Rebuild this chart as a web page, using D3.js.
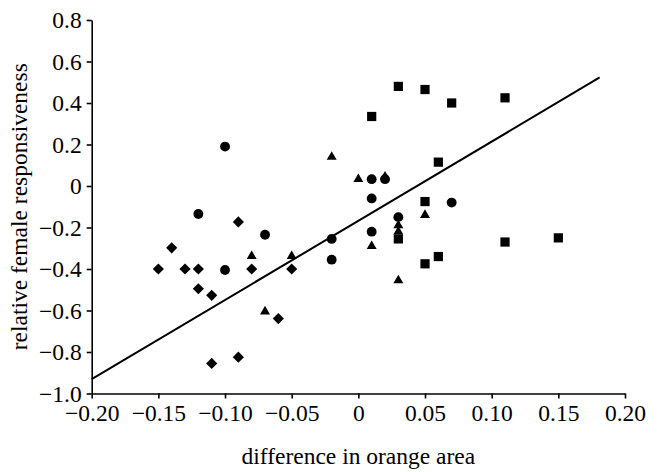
<!DOCTYPE html>
<html><head><meta charset="utf-8">
<script src="https://cdn.jsdelivr.net/npm/d3@7"></script>
<style>body{margin:0;background:#fff}svg{display:block}svg text{font-family:"Liberation Serif","Times New Roman",serif !important;fill:#000}</style>
</head><body><svg id="c" width="659" height="472"></svg>
<script>
const circleX = [-0.10, -0.12, -0.07, -0.10, -0.02, -0.02, 0.01, 0.02, 0.01, 0.01, 0.03, 0.07];
const circleY = [0.19, -0.135, -0.235, -0.405, -0.255, -0.355, 0.033, 0.033, -0.06, -0.22, -0.15, -0.08];
const squareX = [0.03, 0.05, 0.07, 0.11, 0.01, 0.06, 0.05, 0.03, 0.05, 0.06, 0.11, 0.15];
const squareY = [0.48, 0.465, 0.40, 0.425, 0.335, 0.115, -0.075, -0.255, -0.375, -0.34, -0.27, -0.25];
const triangleX = [-0.02, 0.00, 0.02, -0.08, -0.05, -0.07, 0.01, 0.03, 0.03, 0.05, 0.03];
const triangleY = [0.14, 0.033, 0.045, -0.338, -0.338, -0.605, -0.29, -0.19, -0.22, -0.14, -0.455];
const diamondX = [-0.15, -0.14, -0.13, -0.12, -0.12, -0.11, -0.09, -0.08, -0.05, -0.06, -0.11, -0.09];
const diamondY = [-0.40, -0.298, -0.40, -0.40, -0.495, -0.527, -0.173, -0.40, -0.40, -0.639, -0.855, -0.825];
const fitX = [-0.20, 0.181];
const fitY = [-0.931, 0.523];
const xTicks = [-0.20, -0.15, -0.10, -0.05, 0, 0.05, 0.10, 0.15, 0.20];
const yTicks = [-1.0, -0.8, -0.6, -0.4, -0.2, 0, 0.2, 0.4, 0.6, 0.8];
const xTitle = "difference in orange area";
const yTitle = "relative female responsiveness";

const svg = d3.select("#c");
const x = d3.scaleLinear().domain([-0.2, 0.2]).range([91.7, 625]);
const y = d3.scaleLinear().domain([-1.0, 0.8]).range([393.5, 20]);
const fs = "23.5px";
const ff = '"Liberation Serif","Times New Roman",serif';

const xAxis = d3.axisBottom(x).tickValues(xTicks).tickSizeInner(5).tickSizeOuter(0).tickPadding(6)
  .tickFormat(d => d === 0 ? "0" : d3.format(".2f")(d));
const yAxis = d3.axisLeft(y).tickValues(yTicks).tickSizeInner(5).tickSizeOuter(0).tickPadding(5)
  .tickFormat(d => d === 0 ? "0" : d3.format(".1f")(d));

const gx = svg.append("g").attr("transform", `translate(0,${y(-1.0)})`).call(xAxis);
const gy = svg.append("g").attr("transform", `translate(${x(-0.2)},0)`).call(yAxis);
[gx, gy].forEach(g => {
  g.attr("font-family", ff).attr("font-size", 23.5);
  g.select(".domain").attr("stroke", "#000").attr("stroke-width", 1.6);
  g.selectAll(".tick line").attr("stroke", "#000").attr("stroke-width", 1.6);
  g.selectAll(".tick text").attr("font-family", ff).attr("font-size", 23.5).attr("fill", "#000");
});

svg.append("text").attr("x", x(0)).attr("y", 464).attr("text-anchor", "middle")
  .attr("font-family", ff).attr("font-size", 23.5).text(xTitle);
svg.append("text").attr("transform", `translate(27,${(y(0.8)+y(-1.0))/2}) rotate(-90)`).attr("text-anchor", "middle")
  .attr("font-family", ff).attr("font-size", 23.5).text(yTitle);

svg.append("line").attr("x1", x(fitX[0])).attr("y1", y(fitY[0])).attr("x2", x(fitX[1])).attr("y2", y(fitY[1]))
  .attr("stroke", "#000").attr("stroke-width", 2);

function plot(xs, ys, type, size, rot) {
  const sym = d3.symbol().type(type).size(size);
  svg.append("g").selectAll("path").data(xs.map((v, i) => [v, ys[i]])).join("path")
    .attr("d", sym)
    .attr("transform", d => `translate(${x(d[0])},${y(d[1])})${rot ? " rotate(45)" : ""}`)
    .attr("fill", "#000");
}
plot(triangleX, triangleY, d3.symbolTriangle, 43, false);
plot(squareX, squareY, d3.symbolSquare, 85, false);
plot(circleX, circleY, d3.symbolCircle, 76, false);
plot(diamondX, diamondY, d3.symbolSquare, 62, true);
</script></body></html>
